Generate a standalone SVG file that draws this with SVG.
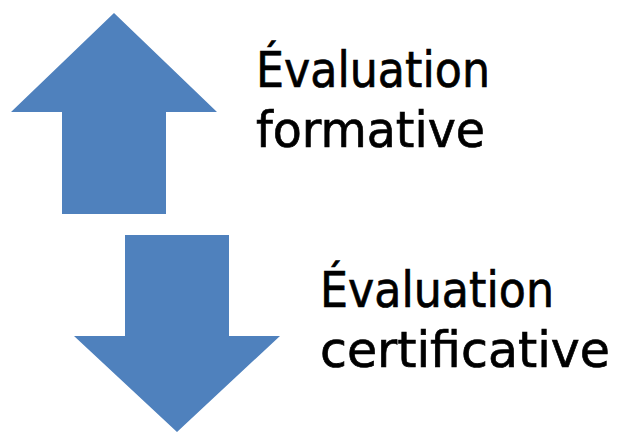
<svg xmlns="http://www.w3.org/2000/svg" width="621" height="433" viewBox="0 0 621 433">
<style>
.arrow{fill:#4f81bd;stroke:none}
.lbl{font-family:"DejaVu Sans","Liberation Sans",sans-serif;font-size:50px;fill:#000;stroke:#000;stroke-width:0.7}
</style>
<rect width="621" height="433" fill="#fff"/>
<g id="up-arrow">
<polygon class="arrow" points="114,13 217,112 166,112 166,214 62,214 62,112 11,112"/>
</g>
<g id="down-arrow">
<polygon class="arrow" points="125,235 229,235 229,336 280,336 177,432 74,336 125,336"/>
</g>
<g id="label-formative">
<text class="lbl" x="256" y="87" textLength="234" lengthAdjust="spacingAndGlyphs">Évaluation</text>
<text class="lbl" x="256" y="147" textLength="229" lengthAdjust="spacingAndGlyphs">formative</text>
</g>
<g id="label-certificative">
<text class="lbl" x="320" y="307" textLength="234" lengthAdjust="spacingAndGlyphs">Évaluation</text>
<text class="lbl" x="320" y="367" textLength="290" lengthAdjust="spacingAndGlyphs">certificative</text>
</g>
<g id="connectors"/>
</svg>
